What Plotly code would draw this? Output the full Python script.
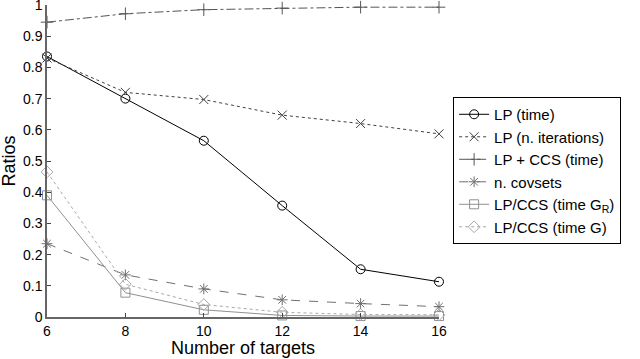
import plotly.graph_objects as go

# data
targets = [6, 8, 10, 12, 14, 16]
lp_time = [0.835, 0.700, 0.565, 0.357, 0.153, 0.113]
lp_iterations = [0.830, 0.720, 0.697, 0.647, 0.620, 0.587]
lp_ccs_time = [0.945, 0.972, 0.985, 0.990, 0.993, 0.993]
n_covsets = [0.235, 0.135, 0.090, 0.055, 0.043, 0.033]
lp_ccs_gr = [0.390, 0.078, 0.023, 0.005, 0.003, 0.003]
lp_ccs_g = [0.465, 0.105, 0.040, 0.015, 0.008, 0.007]
y_ticks = [0, 0.1, 0.2, 0.3, 0.4, 0.5, 0.6, 0.7, 0.8, 0.9, 1]
y_tick_labels = ["0", "0.1", "0.2", "0.3", "0.4", "0.5", "0.6", "0.7", "0.8", "0.9", "1"]

series = [
    ("LP (time)", lp_time, "#000000", "solid", "circle-open"),
    ("LP (n. iterations)", lp_iterations, "#404040", "dot", "x-thin-open"),
    ("LP + CCS (time)", lp_ccs_time, "#555555", "dashdot", "cross-thin-open"),
    ("n. covsets", n_covsets, "#707070", "dash", "asterisk-open"),
    ("LP/CCS (time G<sub>R</sub>)", lp_ccs_gr, "#909090", "solid", "square-open"),
    ("LP/CCS (time G)", lp_ccs_g, "#a8a8a8", "dot", "diamond-open"),
]

fig = go.Figure()
for name, vals, color, dash, symbol in series:
    fig.add_trace(go.Scatter(
        x=targets,
        y=vals,
        mode="lines+markers",
        name=name,
        line={"color": color, "dash": dash, "width": 1},
        marker={"symbol": symbol, "size": 9, "color": color,
                "line": {"color": color, "width": 1}},
        cliponaxis=False,
    ))

fig.update_layout(
    width=640,
    height=359,
    margin={"l": 47, "r": 201, "t": 5, "b": 42, "autoexpand": False},
    plot_bgcolor="white",
    paper_bgcolor="white",
    font={"family": "Liberation Sans, Arial, sans-serif", "size": 14, "color": "black"},
    showlegend=True,
    legend={
        "x": 1.036, "y": 0.705, "xanchor": "left", "yanchor": "top",
        "bordercolor": "black", "borderwidth": 1,
        "font": {"size": 15},
        "tracegroupgap": 0,
    },
    annotations=[
        dict(text="Ratios", xref="paper", yref="paper", x=-0.098, y=0.5,
             xanchor="center", yanchor="middle", textangle=-90,
             showarrow=False, font={"size": 18}),
        dict(text="Number of targets", xref="paper", yref="paper", x=0.5, y=-0.062,
             xanchor="center", yanchor="top", showarrow=False, font={"size": 18}),
    ],
)
fig.update_xaxes(
    range=[6, 16],
    tickvals=targets,
    ticks="inside",
    ticklen=4,
    showline=True,
    linecolor="#666666",
    linewidth=1.5,
    showgrid=False,
    zeroline=False,
    automargin=False,
)
fig.update_yaxes(
    range=[0, 1],
    tickvals=y_ticks,
    ticktext=y_tick_labels,
    ticks="inside",
    ticklen=4,
    ticklabeloverflow="allow",
    showline=True,
    linecolor="#666666",
    linewidth=1.5,
    showgrid=False,
    zeroline=False,
    automargin=False,
)

# drop the default page margin so the figure sits at the window's corner
fig.write_html("out.html", config={"displayModeBar": False},
               post_script="document.body.style.margin='0';")
